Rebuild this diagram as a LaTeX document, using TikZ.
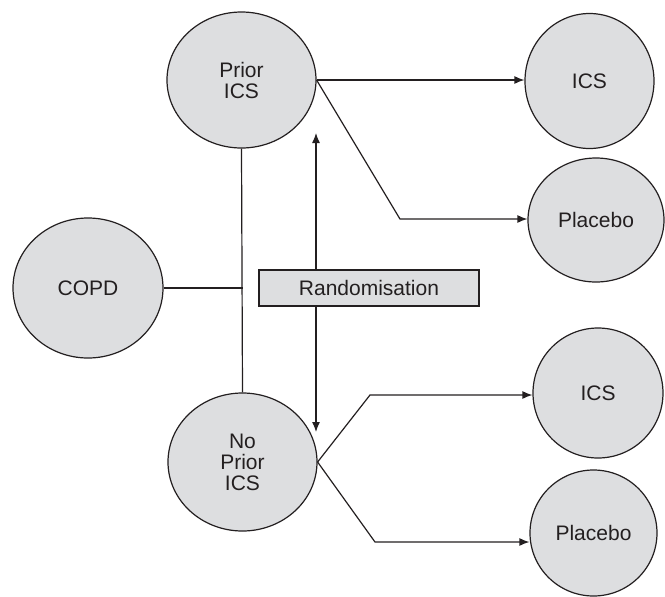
\documentclass[tikz,border=0pt]{standalone}
\usepackage{fontspec}
\setmainfont{Liberation Sans}
\usetikzlibrary{shapes.geometric,arrows.meta}
\definecolor{discgray}{RGB}{221,222,224}
\definecolor{inkgray}{RGB}{35,31,32}
\tikzset{disc/.style={ellipse,draw=inkgray,fill=discgray,inner sep=0pt,align=center,text=inkgray,font=\fontsize{10.5}{10.5}\selectfont},
  arm/.style={-{Latex[length=5pt,width=4pt]}},
  lbox/.style={draw=inkgray,fill=discgray,minimum width=110pt,minimum height=18pt,inner sep=0pt,text=inkgray,font=\fontsize{10.5}{10.5}\selectfont}}

\begin{document}
\begin{tikzpicture}[x=0.5pt,y=-0.5pt,line width=0.6pt,draw=inkgray]
\useasboundingbox (0,0) rectangle (665,596);
\node[disc,minimum width=74.5pt,minimum height=68pt] (prior) at (241.5,80) {Prior\\ICS};
\node[disc,minimum width=74.5pt,minimum height=69pt] (noprior) at (242.5,462) {No\\Prior\\ICS};
\node[disc,minimum width=75pt,minimum height=70pt] (copd) at (88,288) {COPD};
\node[disc,minimum width=64.5pt,minimum height=67.5pt] (icsA) at (589.5,81) {ICS};
\node[disc,minimum width=68pt,minimum height=62pt] (plaA) at (596,220) {Placebo};
\node[disc,minimum width=65pt,minimum height=65pt] (icsB) at (598,393) {ICS};
\node[disc,minimum width=63.5pt,minimum height=63pt] (plaB) at (593.5,533) {Placebo};
\node[lbox] (rand) at (369,288) {Randomisation};

\coordinate (join) at (242.7,288);
\coordinate (up) at (316,133); \coordinate (down) at (316,432);
\coordinate (kA) at (400,219); \coordinate (kB) at (370,395); \coordinate (kC) at (375,542);

% COPD splits into the two groups
\draw (prior.south) -- (noprior.north);
\draw (copd.east) -- (join);
% randomisation
\draw[arm] (rand.north -| up) -- (up);
\draw[arm] (rand.south -| down) -- (down);
% prior ICS arms
\draw[arm] (prior.east) -- (prior.east -| icsA.west);
\draw[arm] (prior.east) -- (kA) -- (kA -| plaA.west);
% no prior ICS arms
\draw[arm] (noprior.east) -- (kB) -- (kB -| icsB.west);
\draw[arm] (noprior.east) -- (kC) -- (kC -| plaB.west);
\end{tikzpicture}
\end{document}
